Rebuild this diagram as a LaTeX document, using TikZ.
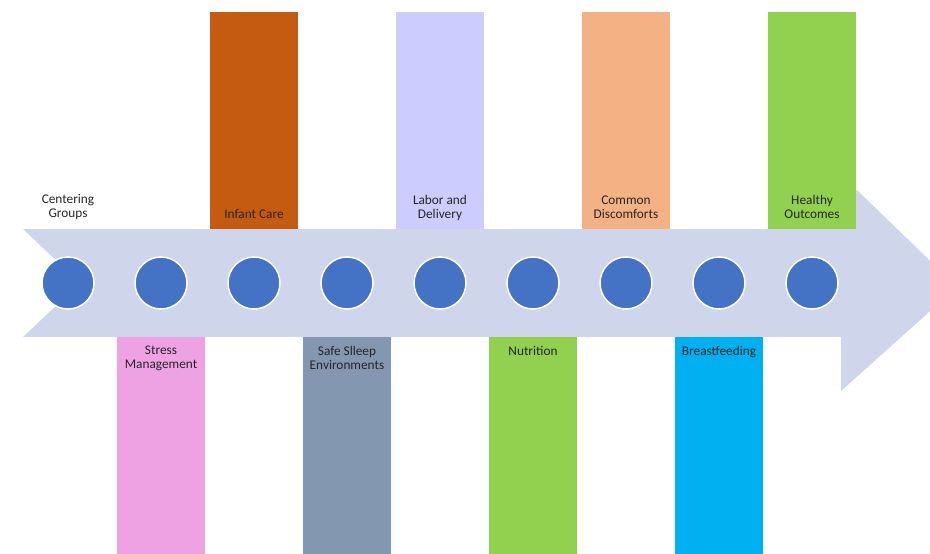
\documentclass[tikz,border=0pt]{standalone}
\usepackage{fontspec}
\setmainfont{Carlito}
\usetikzlibrary{calc}
\definecolor{band}{HTML}{CFD5EA}
\definecolor{dotblue}{HTML}{4472C4}
\definecolor{infantcol}{HTML}{C55A11}
\definecolor{laborcol}{HTML}{CCCCFF}
\definecolor{discomfcol}{HTML}{F4B183}
\definecolor{greencol}{HTML}{92D050}
\definecolor{stresscol}{HTML}{EEA2E3}
\definecolor{sleepcol}{HTML}{8497B0}
\definecolor{breastcol}{HTML}{00B0F0}
\definecolor{textgray}{HTML}{262626}
\tikzset{
  stage/.style={circle, fill=dotblue, draw=white, line width=1.5pt, minimum size=52pt, inner sep=0pt},
  bar/.style={minimum width=88pt, minimum height=217pt, inner sep=0pt},
  caption/.style={align=center, text=textgray, inner sep=0pt, font=\fontsize{13.3}{14}\selectfont}
}
\begin{document}
\begin{tikzpicture}[x=1pt, y=-1pt]
\useasboundingbox (0,0) rectangle (930,554);
\clip (0,0) rectangle (930,554);
% этапы
\def\Up{3/Infant Care/infantcol, 5/Labor and\\Delivery/laborcol, 7/Common\\Discomforts/discomfcol, 9/Healthy\\Outcomes/greencol}
\def\Down{2/Stress\\Management/stresscol, 4/Safe Slleep\\Environments/sleepcol, 6/Nutrition/greencol, 8/Breastfeeding/breastcol}
%стрелка
\fill[band] (23,229) -- (841,229) -- (841,190) -- (857,190) -- (957,287)
  -- (841,391) -- (841,337) -- (23,337) -- (80,283) -- cycle;
%верхние полосы
\foreach \i/\t/\c in \Up {
  \node[bar, fill=\c, anchor=north] (b\i) at ({68+93*(\i-1)},12) {};
  \node[caption, anchor=south] (t\i) at ($(b\i.south)+(0,-8.6)$) {\t\vphantom{g}};
}
%нижние полосы
\foreach \i/\t/\c in \Down {
  \node[bar, fill=\c, anchor=north] (b\i) at ({68+93*(\i-1)},337) {};
  \node[caption, anchor=north] (t\i) at ($(b\i.north)+(0,9)$) {\t};
}
\node[caption, anchor=south] (t1) at (68,220.4) {Centering\\Groups\vphantom{g}};
%точки
\foreach \i in {1,...,9}
  \node[stage] (c\i) at ({68+93*(\i-1)},283) {};
\end{tikzpicture}
\end{document}
